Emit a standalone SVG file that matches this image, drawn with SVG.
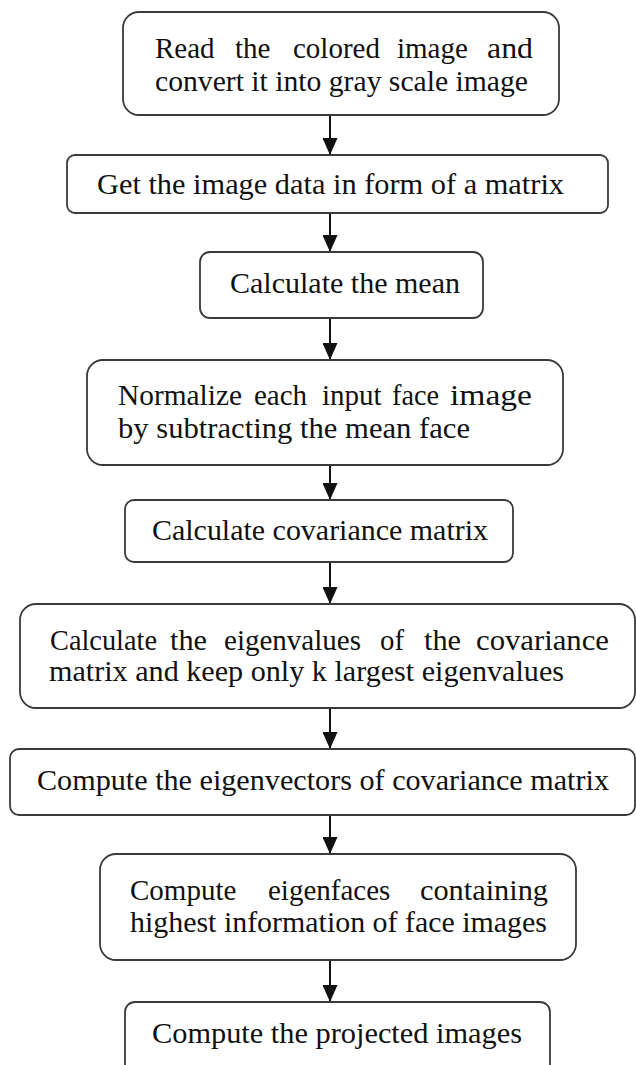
<svg xmlns="http://www.w3.org/2000/svg" width="636" height="1065" viewBox="0 0 636 1065">
<style>
.box{fill:#fff;stroke:#3a3a3a;stroke-width:1.8}
.t{font-family:"Liberation Serif","Times New Roman",serif;font-size:29px;fill:#111}
.c{stroke:#111;stroke-width:2;fill:none;marker-end:url(#ah)}
</style>
<defs>
<marker id="ah" markerUnits="userSpaceOnUse" markerWidth="17" markerHeight="15" viewBox="0 0 17 15" refX="17" refY="7.5" orient="auto">
<path d="M0,0 L17,7.5 L0,15 z" fill="#111"/>
</marker>
</defs>
<rect width="636" height="1065" fill="#fff"/>
<g id="connectors">
<line class="c" x1="330" y1="115" x2="330" y2="155"/>
<line class="c" x1="330" y1="213" x2="330" y2="252"/>
<line class="c" x1="330" y1="318" x2="330" y2="360"/>
<line class="c" x1="330" y1="465" x2="330" y2="500"/>
<line class="c" x1="330" y1="562" x2="330" y2="604"/>
<line class="c" x1="330" y1="708" x2="330" y2="749"/>
<line class="c" x1="330" y1="815" x2="330" y2="854"/>
<line class="c" x1="330" y1="960" x2="330" y2="1002"/>
</g>
<g id="n1">
<rect class="box" x="123" y="12" width="436" height="103" rx="16"/>
<text class="t" y="58"><tspan x="155">Read</tspan><tspan x="235">the</tspan><tspan x="293">colored</tspan><tspan x="397">image</tspan><tspan x="487" textLength="46" lengthAdjust="spacingAndGlyphs">and</tspan></text>
<text class="t" x="155" y="91" textLength="373" lengthAdjust="spacingAndGlyphs">convert it into gray scale image</text>
</g>
<g id="n2">
<rect class="box" x="67" y="155" width="541" height="58" rx="8"/>
<text class="t" x="97" y="194" textLength="467" lengthAdjust="spacingAndGlyphs">Get the image data in form of a matrix</text>
</g>
<g id="n3">
<rect class="box" x="200" y="252" width="283" height="66" rx="10"/>
<text class="t" x="230" y="293" textLength="230" lengthAdjust="spacingAndGlyphs">Calculate the mean</text>
</g>
<g id="n4">
<rect class="box" x="87" y="360" width="476" height="105" rx="16"/>
<text class="t" y="405"><tspan x="118" textLength="124" lengthAdjust="spacingAndGlyphs">Normalize</tspan><tspan x="254">each</tspan><tspan x="322">input</tspan><tspan x="392" textLength="47" lengthAdjust="spacingAndGlyphs">face</tspan><tspan x="450" textLength="82" lengthAdjust="spacingAndGlyphs">image</tspan></text>
<text class="t" x="118" y="438" textLength="352" lengthAdjust="spacingAndGlyphs">by subtracting the mean face</text>
</g>
<g id="n5">
<rect class="box" x="125" y="500" width="388" height="62" rx="9"/>
<text class="t" x="152" y="540" textLength="336" lengthAdjust="spacingAndGlyphs">Calculate covariance matrix</text>
</g>
<g id="n6">
<rect class="box" x="20" y="604" width="615" height="104" rx="16"/>
<text class="t" y="650"><tspan x="50" textLength="107" lengthAdjust="spacingAndGlyphs">Calculate</tspan><tspan x="170" textLength="37" lengthAdjust="spacingAndGlyphs">the</tspan><tspan x="224" textLength="137" lengthAdjust="spacingAndGlyphs">eigenvalues</tspan><tspan x="380" textLength="24" lengthAdjust="spacingAndGlyphs">of</tspan><tspan x="424" textLength="37" lengthAdjust="spacingAndGlyphs">the</tspan><tspan x="476" textLength="133" lengthAdjust="spacingAndGlyphs">covariance</tspan></text>
<text class="t" x="49" y="681" textLength="515" lengthAdjust="spacingAndGlyphs">matrix and keep only k largest eigenvalues</text>
</g>
<g id="n7">
<rect class="box" x="10" y="749" width="625" height="66" rx="9"/>
<text class="t" x="37" y="790" textLength="572" lengthAdjust="spacingAndGlyphs">Compute the eigenvectors of covariance matrix</text>
</g>
<g id="n8">
<rect class="box" x="100" y="854" width="476" height="106" rx="16"/>
<text class="t" y="900"><tspan x="130">Compute</tspan><tspan x="268">eigenfaces</tspan><tspan x="420" textLength="128" lengthAdjust="spacingAndGlyphs">containing</tspan></text>
<text class="t" x="130" y="932" textLength="417" lengthAdjust="spacingAndGlyphs">highest information of face images</text>
</g>
<g id="n9">
<rect class="box" x="125" y="1002" width="425" height="90" rx="10"/>
<text class="t" x="152" y="1043" textLength="370" lengthAdjust="spacingAndGlyphs">Compute the projected images</text>
</g>
</svg>
